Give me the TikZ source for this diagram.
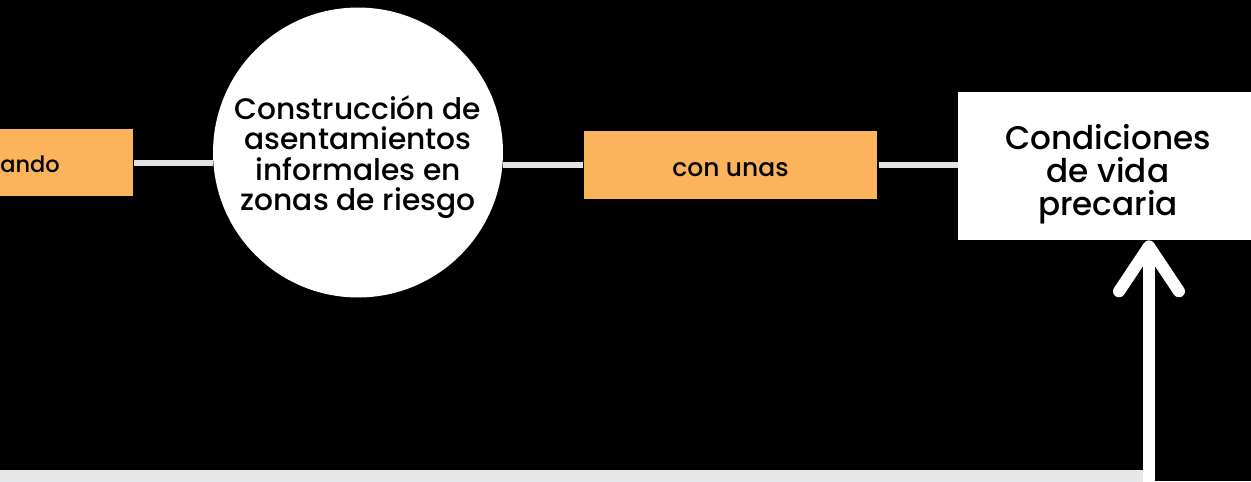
\documentclass[tikz,border=0pt]{standalone}
\usepackage{fontspec}
\setmainfont{Poppins}[UprightFont={* Medium}]
\usetikzlibrary{arrows.meta}
\definecolor{naranja}{HTML}{FBB35C}
\definecolor{linea}{HTML}{E2E2E2}
\definecolor{franja}{HTML}{E6E7E8}
\tikzset{
  caja/.style={rectangle, fill=naranja, draw=black, line width=0.6pt, font=\fontsize{14.2}{16}\selectfont},
  circulo/.style={circle, fill=white, minimum size=5.8cm, align=center, inner sep=0pt, font=\fontsize{16.9}{17.2}\selectfont},
  destino/.style={rectangle, fill=white, align=center, font=\fontsize{18.6}{18.8}\selectfont},
  enlace/.style={linea, line width=0.12cm},
  flecha/.style={white, line width=0.24cm, -{Straight Barb[length=0.9cm, width=1.2cm, round]}}
}
\newcommand{\bajar}[2]{\raisebox{-#1}[\height][\depth]{#2}}
\begin{document}
\begin{tikzpicture}[x=0.02cm, y=-0.02cm]
\useasboundingbox (0,0) rectangle (1251,481);
\fill[black] (0,0) rectangle (1251,481);
\clip (0,0) rectangle (1251,481);
% caja cortada a la izquierda
\node[caja, minimum width=5.06cm, minimum height=1.38cm] (ando) at (7,162.5) {};
\node[font=\fontsize{12.8}{14}\selectfont, anchor=west, inner sep=0pt] (andotxt) at (0,164) {ando};
\node[circulo] (asent) at (358,152.5) {\bajar{2.6pt}{\parbox{5cm}{\centering Construcción de\\asentamientos\\informales en\\zonas de riesgo}}};
\node[caja, minimum width=5.9cm, minimum height=1.4cm] (unas) at (730.5,165) {\bajar{2.8pt}{con unas}};
\node[destino, minimum width=6cm, minimum height=2.96cm] (cond) at (1108,166) {\bajar{4.5pt}{\parbox{5.5cm}{\centering Condiciones\\de vida\\precaria}}};
\draw[enlace] (ando.east) -- (asent.west |- ando.east);
\draw[enlace] (asent.east |- unas.west) -- (unas.west);
\draw[enlace] (unas.east) -- (cond.west |- unas.east);
% franja inferior
\fill[franja] (0,470) rectangle (1143,490);
\coordinate (base) at (1149,490);
\draw[flecha] (base) -- (base |- cond.south);
\end{tikzpicture}
\end{document}
